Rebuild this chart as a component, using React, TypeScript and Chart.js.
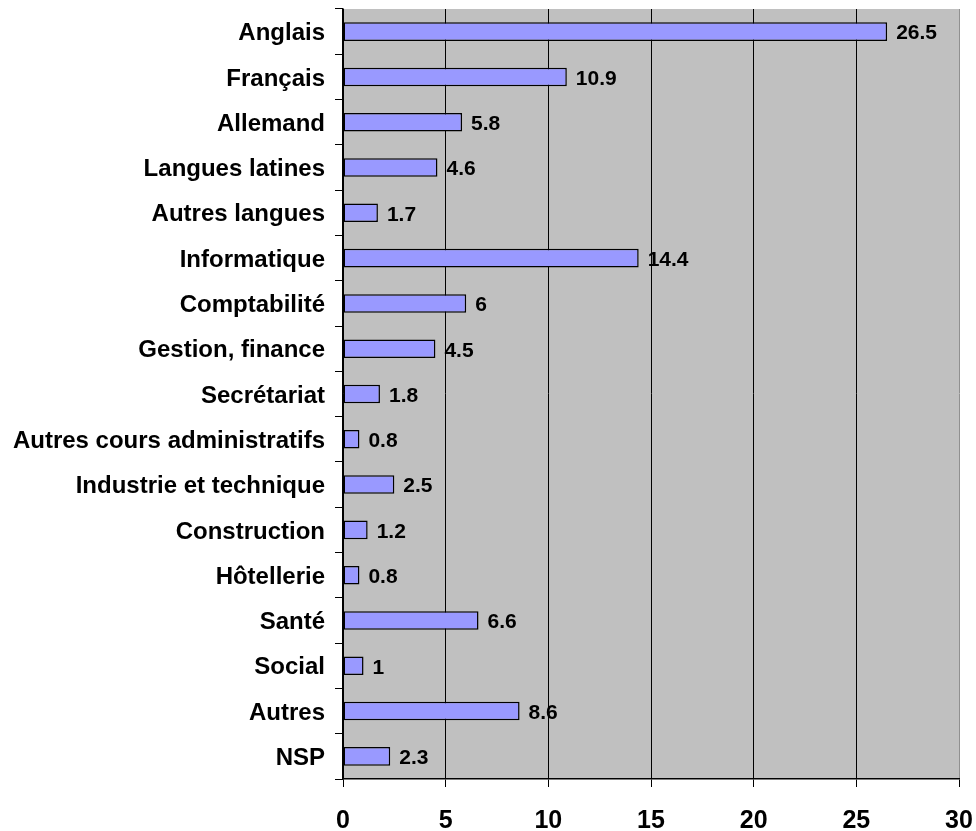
import React, { useEffect, useRef } from "react";
import { Chart, registerables } from "chart.js";

Chart.register(...registerables);

const categories = [
  "Anglais",
  "Français",
  "Allemand",
  "Langues latines",
  "Autres langues",
  "Informatique",
  "Comptabilité",
  "Gestion, finance",
  "Secrétariat",
  "Autres cours administratifs",
  "Industrie et technique",
  "Construction",
  "Hôtellerie",
  "Santé",
  "Social",
  "Autres",
  "NSP",
];

const values = [26.5, 10.9, 5.8, 4.6, 1.7, 14.4, 6, 4.5, 1.8, 0.8, 2.5, 1.2, 0.8, 6.6, 1, 8.6, 2.3];

const valueLabels = ["26.5", "10.9", "5.8", "4.6", "1.7", "14.4", "6", "4.5", "1.8", "0.8", "2.5", "1.2", "0.8", "6.6", "1", "8.6", "2.3"];

const xTicks = [0, 5, 10, 15, 20, 25, 30];

const FONT = "'Liberation Sans', Arial, sans-serif";

const plotBg = {
  id: "plotBg",
  beforeDraw(chart: any) {
    const { ctx, chartArea } = chart;
    ctx.save();
    ctx.fillStyle = "#C0C0C0";
    ctx.fillRect(chartArea.left, chartArea.top, chartArea.right - chartArea.left, chartArea.bottom - chartArea.top);
    ctx.restore();
  },
};

const dataLabels = {
  id: "dataLabels",
  afterDatasetsDraw(chart: any) {
    const { ctx } = chart;
    const meta = chart.getDatasetMeta(0);
    ctx.save();
    ctx.fillStyle = "#000";
    ctx.font = `bold 21px ${FONT}`;
    ctx.textAlign = "left";
    ctx.textBaseline = "middle";
    meta.data.forEach((bar: any, i: number) => {
      ctx.fillText(valueLabels[i], bar.x + 9, bar.y + 2);
    });
    ctx.restore();
  },
};

export default function App() {
  const ref = useRef<HTMLCanvasElement>(null);
  useEffect(() => {
    if (!ref.current) return;
    const chart = new Chart(ref.current, {
      type: "bar",
      data: {
        labels: categories,
        datasets: [
          {
            data: values,
            backgroundColor: "#9999FF",
            borderColor: "#000",
            borderWidth: 1.5,
            borderSkipped: false,
            barPercentage: 0.41,
            categoryPercentage: 1,
          },
        ],
      },
      options: {
        indexAxis: "y",
        animation: false,
        responsive: false,
        layout: { padding: { top: 9, right: 17, left: 0, bottom: 0 } },
        plugins: { legend: { display: false }, tooltip: { enabled: false } },
        scales: {
          x: {
            min: 0,
            max: 30,
            afterBuildTicks(scale: any) {
              scale.ticks = xTicks.map((v) => ({ value: v }));
            },
            afterFit(scale: any) {
              scale.height = 52;
              scale.paddingLeft = 0;
              scale.paddingRight = 0;
            },
            grid: {
              color: (c: any) => (c.tick && c.tick.value === 30 ? "#909090" : "#000"),
              lineWidth: 1,
              tickLength: 8,
              tickColor: "#000",
            },
            border: { color: "#000", width: 1.5 },
            ticks: {
              color: "#000",
              padding: 19,
              font: { family: FONT, size: 25, weight: "bold" },
            },
          },
          y: {
            afterFit(scale: any) {
              scale.width = 343;
              scale.paddingTop = 0;
              scale.paddingBottom = 0;
            },
            grid: {
              drawOnChartArea: false,
              tickLength: 8,
              color: "#000",
              offset: true,
            },
            border: { color: "#000", width: 1.5 },
            ticks: {
              color: "#000",
              padding: 10,
              labelOffset: 2,
              autoSkip: false,
              font: { family: FONT, size: 24, weight: "bold" },
            },
          },
        },
      },
      plugins: [plotBg, dataLabels],
    });
    return () => chart.destroy();
  }, []);
  return (
    <div style={{ position: "fixed", left: 0, top: 0, width: 976, height: 831, background: "#fff" }}>
      <canvas ref={ref} width={976} height={831} style={{ display: "block" }} />
    </div>
  );
}
